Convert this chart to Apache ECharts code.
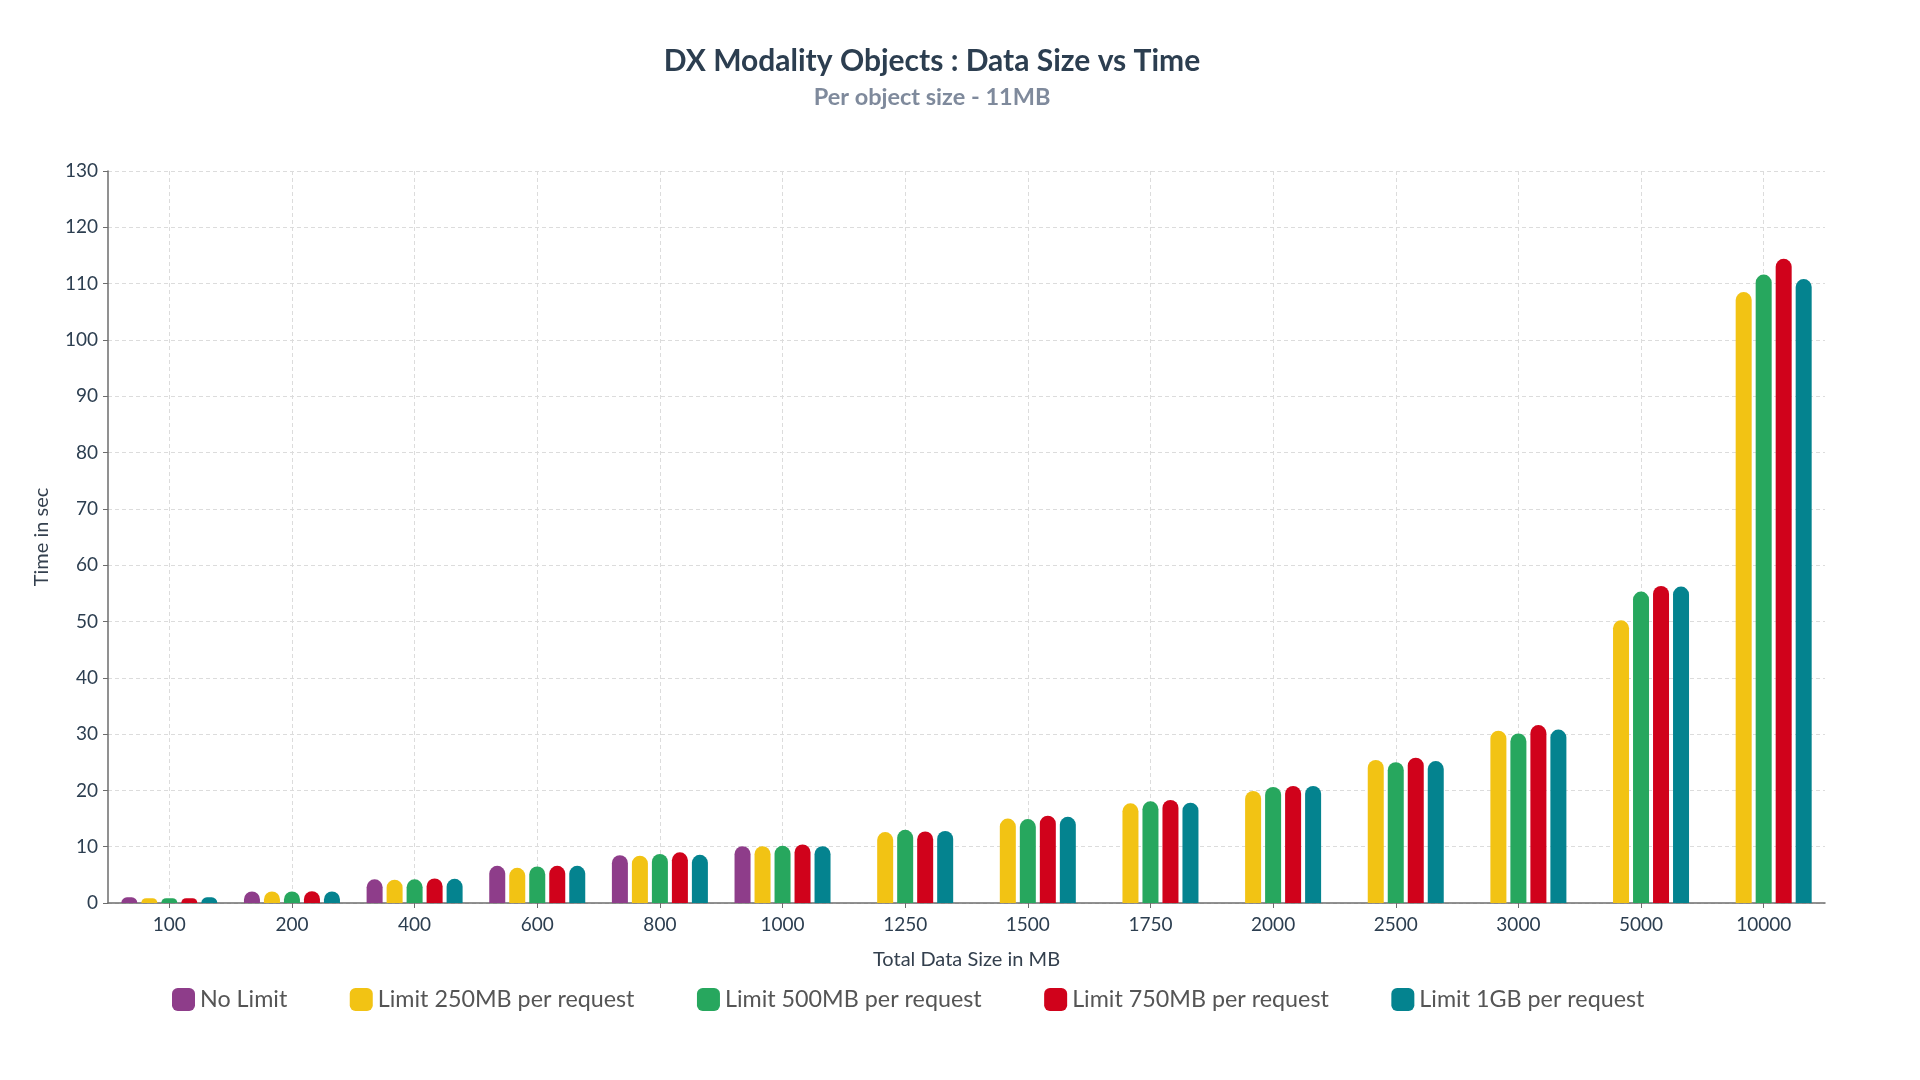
<!DOCTYPE html>
<html>
<head>
<meta charset="utf-8">
<script src="https://cdn.jsdelivr.net/npm/echarts@6/dist/echarts.min.js"></script>
<style>
html,body{margin:0;padding:0;background:#fff;}
#chart{width:1920px;height:1080px;}
</style>
</head>
<body>
<div id="chart"></div>
<script>
const categories = ['100','200','400','600','800','1000','1250','1500','1750','2000','2500','3000','5000','10000'];
const seriesNames = ['No Limit','Limit 250MB per request','Limit 500MB per request','Limit 750MB per request','Limit 1GB per request'];
const noLimit  = [1.0, 2.05, 4.2, 6.6, 8.5, 10.1, null, null, null, null, null, null, null, null];
const limit250 = [0.85, 2.05, 4.15, 6.25, 8.4, 10.1, 12.6, 15.0, 17.7, 19.9, 25.4, 30.6, 50.2, 108.5];
const limit500 = [0.85, 2.05, 4.2, 6.5, 8.7, 10.15, 13.0, 14.9, 18.05, 20.6, 25.0, 30.1, 55.3, 111.6];
const limit750 = [0.85, 2.1, 4.35, 6.6, 9.0, 10.4, 12.7, 15.5, 18.3, 20.8, 25.8, 31.6, 56.3, 114.4];
const limit1GB = [1.0, 2.05, 4.3, 6.6, 8.55, 10.1, 12.8, 15.3, 17.8, 20.8, 25.2, 30.8, 56.2, 110.8];
const colors = ['#8e3d8a', '#f2c314', '#27a75e', '#d0021b', '#04838f'];

const allData = [noLimit, limit250, limit500, limit750, limit1GB];
const FONT = 'Lato, "Noto Sans", sans-serif';

const chart = echarts.init(document.getElementById('chart'));
chart.setOption({
  backgroundColor: '#ffffff',
  color: colors,
  textStyle: { fontFamily: FONT },
  title: [
    { text: 'DX Modality Objects : Data Size vs Time', left: 927, top: 41, textAlign: 'center',
      textStyle: { fontFamily: FONT, fontSize: 30, fontWeight: 'bold', color: '#2c3e50' } },
    { text: 'Per object size - 11MB', left: 927, top: 80, textAlign: 'center',
      textStyle: { fontFamily: FONT, fontSize: 23.5, fontWeight: 'bold', color: '#7f8a9c' } }
  ],
  legend: {
    left: 167, top: 983,
    icon: 'roundRect', itemWidth: 23, itemHeight: 23, itemGap: 62.5,
    textStyle: { fontFamily: FONT, fontSize: 23.3, color: '#555' },
    data: seriesNames
  },
  grid: { left: 108, right: 95, top: 171, bottom: 177, containLabel: false },
  xAxis: {
    type: 'category',
    data: categories,
    name: 'Total Data Size in MB',
    nameLocation: 'middle',
    nameGap: 47,
    nameTextStyle: { fontFamily: FONT, fontSize: 20, color: '#34404e' },
    axisLine: { lineStyle: { color: '#6d6d6d', width: 1.5 } },
    axisTick: { show: true, alignWithLabel: true, length: 5, lineStyle: { color: '#6d6d6d' } },
    axisLabel: { fontFamily: FONT, fontSize: 19, color: '#2c3e50', margin: 12 },
    splitLine: { show: true, alignWithLabel: true, lineStyle: { color: '#dcdcdc', type: [4, 3], width: 1 } }
  },
  yAxis: {
    type: 'value',
    min: 0, max: 130, interval: 10,
    name: 'Time in sec',
    nameLocation: 'middle',
    nameGap: 56,
    nameTextStyle: { fontFamily: FONT, fontSize: 20, color: '#34404e' },
    axisLine: { show: true, lineStyle: { color: '#6d6d6d', width: 1.5 } },
    axisTick: { show: true, length: 5, lineStyle: { color: '#6d6d6d' } },
    axisLabel: { fontFamily: FONT, fontSize: 19, color: '#2c3e50', margin: 10 },
    splitLine: { show: true, lineStyle: { color: '#dcdcdc', type: [4, 3], width: 1 } }
  },
  series: seriesNames.map((n, i) => ({
    name: n,
    type: 'bar',
    data: allData[i],
    barWidth: 16,
    barGap: '25%',
    itemStyle: { color: colors[i], borderRadius: [8, 8, 0, 0] }
  }))
});
</script>
</body>
</html>
